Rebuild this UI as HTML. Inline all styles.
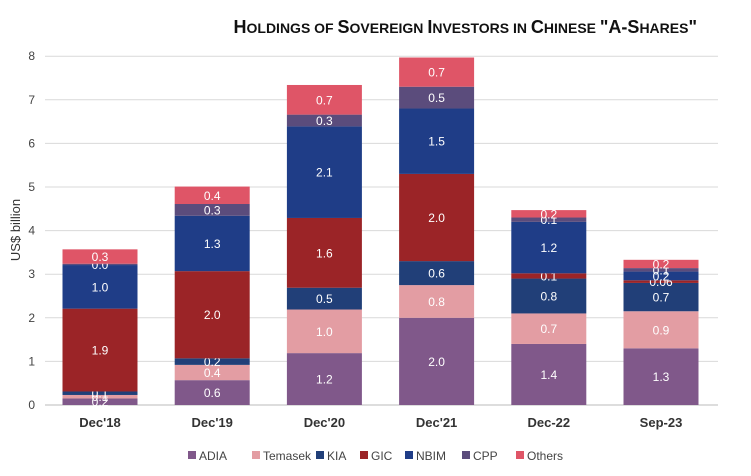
<!DOCTYPE html>
<html><head><meta charset="utf-8"><style>
body{margin:0;background:#fff;font-family:"Liberation Sans",sans-serif}
svg{display:block}
</style></head><body>
<svg id="c" width="751" height="476">
<text x="697" y="33" text-anchor="end" font-size="18" font-weight="bold" fill="#111">H<tspan font-size="14">OLDINGS OF </tspan>S<tspan font-size="14">OVEREIGN </tspan>I<tspan font-size="14">NVESTORS IN </tspan>C<tspan font-size="14">HINESE </tspan>"A-S<tspan font-size="14">HARES</tspan>"</text>
<text transform="translate(20,230) rotate(-90)" text-anchor="middle" font-size="13" fill="#333">US$ billion</text>
<g id="grid"></g><g id="bars"></g><g id="legend"></g>
</svg>
<script>
const categories=["Dec'18","Dec'19","Dec'20","Dec'21","Dec-22","Sep-23"];
const seriesNames=["ADIA","Temasek","KIA","GIC","NBIM","CPP","Others"];
const colors=["#80588a","#e39da3","#213f78","#9b2427","#1f3d87","#5b4c7c","#df5567"];
const ADIA=[0.15,0.57,1.19,2.0,1.4,1.3];
const Temasek=[0.08,0.35,1.0,0.75,0.7,0.85];
const KIA=[0.08,0.15,0.5,0.55,0.8,0.65];
const GIC=[1.9,2.0,1.6,2.0,0.12,0.06];
const NBIM=[1.0,1.27,2.1,1.5,1.18,0.2];
const CPP=[0.03,0.27,0.27,0.5,0.1,0.08];
const Others=[0.33,0.4,0.68,0.67,0.17,0.19];
const labels=[["0.2","0.6","1.2","2.0","1.4","1.3"],["0.1","0.4","1.0","0.8","0.7","0.9"],["0.1","0.2","0.5","0.6","0.8","0.7"],["1.9","2.0","1.6","2.0","0.1","0.06"],["1.0","1.3","2.1","1.5","1.2","0.2"],["0.0","0.3","0.3","0.5","0.1","0.1"],["0.3","0.4","0.7","0.7","0.2","0.2"]];
const series=[ADIA,Temasek,KIA,GIC,NBIM,CPP,Others];
const yTicks=[0,1,2,3,4,5,6,7,8];
const NS="http://www.w3.org/2000/svg";
const y=v=>405-v*43.6;
const x=i=>100+i*112.2;
const bw=75;
function mk(t,a,p){const e=document.createElementNS(NS,t);for(const k in a)e.setAttribute(k,a[k]);p.appendChild(e);return e;}
const grid=document.getElementById('grid');
yTicks.forEach(t=>{
  const l=mk('line',{x1:45,x2:718,y1:y(t),y2:y(t),stroke:t===0?'#bbb':'#d9d9d9','stroke-width':1},grid);
  
  
  const tx=mk('text',{x:35,y:y(t)+4,'text-anchor':'end','font-size':12,fill:'#444'},grid);
  tx.textContent=t;
  
  
});
const bars=document.getElementById('bars');
categories.forEach((c,i)=>{
  let base=0;
  series.forEach((s,j)=>{
    const v=s[i];
    const r=mk('rect',{x:x(i)-bw/2,y:y(base+v),width:bw,height:v*43.6,fill:colors[j]},bars);
    
    
    const t=mk('text',{x:x(i),y:y(base+v/2)+4.5,'text-anchor':'middle','font-size':12,fill:'#fff'},bars);
    t.textContent=labels[j][i];
    
    
    base+=v;
  });
  const ct=mk('text',{x:x(i),y:427,'text-anchor':'middle','font-size':13,'font-weight':'bold',fill:'#333'},bars);
  ct.textContent=c;
  
  
});
const lg=document.getElementById('legend');
const lx=[188,252,316,360,405,462,516];
seriesNames.forEach((n,j)=>{
  const r=mk('rect',{x:lx[j],y:451,width:8,height:8,fill:colors[j]},lg);
  
  
  const t=mk('text',{x:lx[j]+11,y:460,'font-size':12,fill:'#444'},lg);
  t.textContent=n;
  
  
});
</script>
</body></html>
